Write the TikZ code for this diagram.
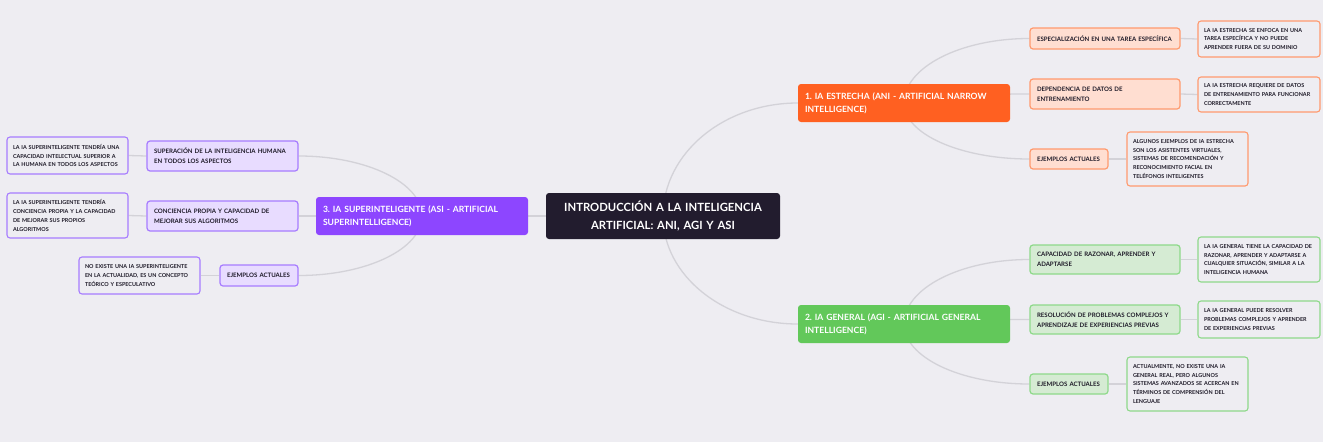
\documentclass[tikz,border=0pt]{standalone}
\usepackage{fontspec}
\setmainfont{Lato}
\frenchspacing
\usetikzlibrary{calc,backgrounds}
\definecolor{bg}{HTML}{EEEDF2}
\definecolor{linkc}{HTML}{D3D2D8}
\definecolor{textc}{HTML}{1E1A28}
\definecolor{central}{HTML}{221C2E}
\definecolor{aniD}{HTML}{FF6021}
\definecolor{aniL}{HTML}{FFDED1}
\definecolor{aniB}{HTML}{FF9A6E}
\definecolor{agiD}{HTML}{62C85A}
\definecolor{agiL}{HTML}{D5EBD3}
\definecolor{agiB}{HTML}{8ED98A}
\definecolor{asiD}{HTML}{8D46FF}
\definecolor{asiL}{HTML}{E8DCFF}
\definecolor{asiB}{HTML}{A77CFF}
\tikzset{
  box/.style={rectangle, rounded corners=3pt, inner ysep=0pt, align=left, anchor=center},
  centralbox/.style={box, fill=central, text=white, align=center, inner xsep=7pt,
    font=\fontsize{11.3}{17.5}\selectfont\bfseries},
  branchbox/.style={box, text=white, inner xsep=7pt,
    font=\fontsize{8.6}{13.3}\selectfont\bfseries},
  childbox/.style={box, line width=1.2pt, text=textc, inner xsep=7pt,
    font=\fontsize{6.1}{9.8}\selectfont\bfseries},
  leafbox/.style={box, line width=1.1pt, fill=bg, text=textc, inner xsep=6pt,
    font=\fontsize{5.45}{8.8}\selectfont\bfseries},
  linkline/.style={draw=linkc, line width=1.3pt},
}
\newcommand\mmcurve[2]{%
  \draw[linkline] (#1) .. controls ($(#1)!0.552!(#1|-#2)$) and ($(#2)!0.552!(#1|-#2)$) .. (#2);}
\begin{document}
\begin{tikzpicture}[x=1pt,y=-1pt]
\useasboundingbox (0,0) rectangle (1323,442);
% central
\node[centralbox, minimum width=234pt, minimum height=46pt, text width=220pt] (C) at (663,216)
  {INTRODUCCIÓN A LA INTELIGENCIA\\ARTIFICIAL: ANI, AGI Y ASI};
% branches
\node[branchbox, fill=aniD, minimum height=38pt, text width=198pt] (A) at (904,103)
  {1. IA ESTRECHA (ANI - ARTIFICIAL NARROW\\INTELLIGENCE)};
\node[branchbox, fill=agiD, minimum height=38pt, text width=198pt] (G) at (904,324)
  {2. IA GENERAL (AGI - ARTIFICIAL GENERAL\\INTELLIGENCE)};
\node[branchbox, fill=asiD, minimum height=38pt, text width=198pt] (S) at (422,216)
  {3. IA SUPERINTELIGENTE (ASI - ARTIFICIAL\\SUPERINTELLIGENCE)};
% ANI children
\node[childbox, fill=aniL, draw=aniB, minimum height=21pt, text width=136pt] (A1) at (1105,38.5)
  {ESPECIALIZACIÓN EN UNA TAREA ESPECÍFICA};
\node[childbox, fill=aniL, draw=aniB, minimum height=30pt, text width=136pt] (A2) at (1105,94)
  {DEPENDENCIA DE DATOS DE\\ENTRENAMIENTO};
\node[childbox, fill=aniL, draw=aniB, minimum height=20pt, text width=64pt] (A3) at (1069,159)
  {EJEMPLOS ACTUALES};
\node[leafbox, draw=aniB, minimum height=36pt, text width=110pt] (A1L) at (1259,39)
  {LA IA ESTRECHA SE ENFOCA EN UNA\\TAREA ESPECÍFICA Y NO PUEDE\\APRENDER FUERA DE SU DOMINIO};
\node[leafbox, draw=aniB, minimum height=35pt, text width=110pt] (A2L) at (1259,94.5)
  {LA IA ESTRECHA REQUIERE DE DATOS\\DE ENTRENAMIENTO PARA FUNCIONAR\\CORRECTAMENTE};
\node[leafbox, draw=aniB, minimum height=54pt, text width=109pt] (A3L) at (1187.5,159)
  {ALGUNOS EJEMPLOS DE IA ESTRECHA\\SON LOS ASISTENTES VIRTUALES,\\SISTEMAS DE RECOMENDACIÓN Y\\RECONOCIMIENTO FACIAL EN\\TELÉFONOS INTELIGENTES};
% AGI children
\node[childbox, fill=agiL, draw=agiB, minimum height=29pt, text width=136pt] (G1) at (1105,259.5)
  {CAPACIDAD DE RAZONAR, APRENDER Y\\ADAPTARSE};
\node[childbox, fill=agiL, draw=agiB, minimum height=29pt, text width=136pt] (G2) at (1105,319.5)
  {RESOLUCIÓN DE PROBLEMAS COMPLEJOS Y\\APRENDIZAJE DE EXPERIENCIAS PREVIAS};
\node[childbox, fill=agiL, draw=agiB, minimum height=20pt, text width=64pt] (G3) at (1069,384)
  {EJEMPLOS ACTUALES};
\node[leafbox, draw=agiB, minimum height=45pt, text width=110pt] (G1L) at (1259,259.5)
  {LA IA GENERAL TIENE LA CAPACIDAD DE\\RAZONAR, APRENDER Y ADAPTARSE A\\CUALQUIER SITUACIÓN, SIMILAR A LA\\INTELIGENCIA HUMANA};
\node[leafbox, draw=agiB, minimum height=37pt, text width=110pt] (G2L) at (1259,319.5)
  {LA IA GENERAL PUEDE RESOLVER\\PROBLEMAS COMPLEJOS Y APRENDER\\DE EXPERIENCIAS PREVIAS};
\node[leafbox, draw=agiB, minimum height=54pt, text width=109pt] (G3L) at (1187.5,384)
  {ACTUALMENTE, NO EXISTE UNA IA\\GENERAL REAL, PERO ALGUNOS\\SISTEMAS AVANZADOS SE ACERCAN EN\\TÉRMINOS DE COMPRENSIÓN DEL\\LENGUAJE};
% ASI children
\node[childbox, fill=asiL, draw=asiB, minimum height=30pt, text width=137pt] (S1) at (222.5,156)
  {SUPERACIÓN DE LA INTELIGENCIA HUMANA\\EN TODOS LOS ASPECTOS};
\node[childbox, fill=asiL, draw=asiB, minimum height=30pt, text width=137pt] (S2) at (222.5,216)
  {CONCIENCIA PROPIA Y CAPACIDAD DE\\MEJORAR SUS ALGORITMOS};
\node[childbox, fill=asiL, draw=asiB, minimum height=21pt, text width=64pt] (S3) at (259,275.5)
  {EJEMPLOS ACTUALES};
\node[leafbox, draw=asiB, minimum height=37pt, text width=109pt] (S1L) at (67.5,155.5)
  {LA IA SUPERINTELIGENTE TENDRÍA UNA\\CAPACIDAD INTELECTUAL SUPERIOR A\\LA HUMANA EN TODOS LOS ASPECTOS};
\node[leafbox, draw=asiB, minimum height=45pt, text width=109pt] (S2L) at (67.5,215.5)
  {LA IA SUPERINTELIGENTE TENDRÍA\\CONCIENCIA PROPIA Y LA CAPACIDAD\\DE MEJORAR SUS PROPIOS\\ALGORITMOS};
\node[leafbox, draw=asiB, minimum height=37pt, text width=109pt] (S3L) at (139.5,275.5)
  {NO EXISTE UNA IA SUPERINTELIGENTE\\EN LA ACTUALIDAD, ES UN CONCEPTO\\TEÓRICO Y ESPECULATIVO};
% connectors
\begin{pgfonlayer}{background}
\fill[bg] (0,0) rectangle (1323,442);
\mmcurve{C.center}{A.west}
\mmcurve{C.center}{G.west}
\draw[linkline] (C.center) -- (S.east);
\mmcurve{A.center}{A1.west}
\mmcurve{A.center}{A2.west}
\mmcurve{A.center}{A3.west}
\mmcurve{G.center}{G1.west}
\mmcurve{G.center}{G2.west}
\mmcurve{G.center}{G3.west}
\mmcurve{S.center}{S1.east}
\mmcurve{S.center}{S2.east}
\mmcurve{S.center}{S3.east}
\draw[linkline] (A1.east) -- (A1L.west);
\draw[linkline] (A2.east) -- (A2L.west);
\draw[linkline] (A3.east) -- (A3L.west);
\draw[linkline] (G1.east) -- (G1L.west);
\draw[linkline] (G2.east) -- (G2L.west);
\draw[linkline] (G3.east) -- (G3L.west);
\draw[linkline] (S1.west) -- (S1L.east);
\draw[linkline] (S2.west) -- (S2L.east);
\draw[linkline] (S3.west) -- (S3L.east);
\end{pgfonlayer}
\end{tikzpicture}
\end{document}
